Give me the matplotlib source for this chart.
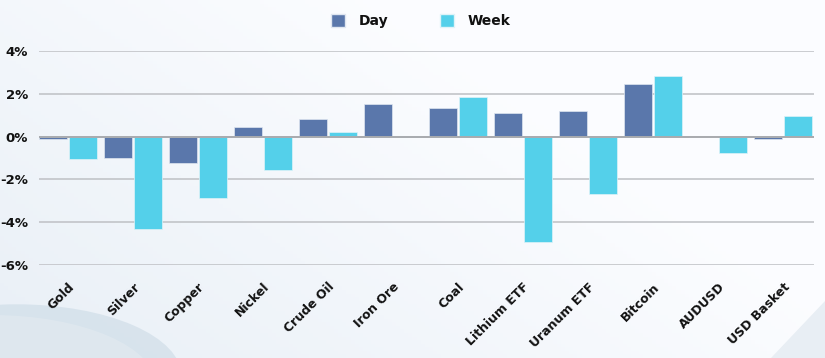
import matplotlib
matplotlib.use("Agg")
import matplotlib.pyplot as plt
import numpy as np
from matplotlib.patches import Patch, Ellipse
from matplotlib.ticker import FuncFormatter

categories = ["Gold", "Silver", "Copper", "Nickel", "Crude Oil", "Iron Ore",
              "Coal", "Lithium ETF", "Uranum ETF", "Bitcoin", "AUDUSD", "USD Basket"]
day = [-0.10, -0.98, -1.22, 0.47, 0.82, 1.52, 1.33, 1.10, 1.21, 2.47, 0.0, -0.09]
week = [-1.07, -4.33, -2.88, -1.58, 0.23, 0.03, 1.83, -4.92, -2.68, 2.84, -0.77, 0.96]
yticks = [-6, -4, -2, 0, 2, 4]

DAY_C = "#5a77ab"
WEEK_C = "#54d0ea"

W, H = 825, 358
fig = plt.figure(figsize=(W / 100, H / 100), dpi=100)

# background gradient
bg = fig.add_axes([0, 0, 1, 1], zorder=-10)
xx, yy = np.meshgrid(np.linspace(0, 1, 200), np.linspace(0, 1, 100))
t = np.clip((1 - xx) * 0.8 + yy * 0.5 - 0.45, 0, 1)
c0 = np.array([0.985, 0.99, 1.0])
c1 = np.array([0.90, 0.93, 0.96])
img = c0[None, None, :] * (1 - t[..., None]) + c1[None, None, :] * t[..., None]
bg.imshow(img, extent=[0, 1, 0, 1], aspect="auto", origin="upper")
bg.add_patch(Ellipse((0.02, -0.05), 0.40, 0.40, color="#d3e0ea", alpha=0.8, lw=0))
bg.add_patch(Ellipse((-0.01, -0.08), 0.40, 0.40, color="#dfe8ef", alpha=0.9, lw=0))
bg.add_patch(plt.Polygon([[0.935, 0], [1, 0], [1, 0.16]], color="#e8eef4", lw=0))
bg.set_xlim(0, 1)
bg.set_ylim(0, 1)
bg.axis("off")

ax = fig.add_axes([39 / W, 1 - 265 / H, (814 - 39) / W, (265 - 51) / H])
ax.patch.set_alpha(0)

x = np.arange(len(categories))
off = 0.231
bw = 0.43
ax.bar(x - off, day, bw, color=DAY_C, edgecolor="#dfe6f0", linewidth=0.5, zorder=3, label="Day")
ax.bar(x + off, week, bw, color=WEEK_C, edgecolor="#dff3f8", linewidth=0.5, zorder=3, label="Week")

ax.set_ylim(-6, 4)
ax.set_xlim(-0.446, 11.477)
ax.set_yticks(yticks)
ax.yaxis.set_major_formatter(FuncFormatter(lambda v, p: f"{int(v)}%"))
ax.grid(axis="y", color="#c2c4c8", linewidth=1.2, zorder=0)
ax.axhline(0, color="#a9abaf", linewidth=1.4, zorder=4)
for s in ax.spines.values():
    s.set_visible(False)
ax.tick_params(axis="both", length=0)
ax.tick_params(axis="y", pad=8)
for lab in ax.get_yticklabels():
    lab.set_fontweight("bold")
    lab.set_fontsize(9.5)
    lab.set_color("#111111")

ax.set_xticks(x)
ax.set_xticklabels(categories, rotation=45, ha="right", rotation_mode="anchor",
                   fontsize=9, fontweight="bold", color="#111111")
ax.tick_params(axis="x", pad=11)

handles = [Patch(facecolor=DAY_C, edgecolor="#dfe6f0", label="Day"),
           Patch(facecolor=WEEK_C, edgecolor="#dff3f8", label="Week")]
leg = fig.legend(handles=handles, loc="upper center", bbox_to_anchor=(421 / W, 1.0 - 1 / H),
                 ncol=2, frameon=False, handlelength=1.0, handleheight=1.1,
                 handletextpad=1.0, columnspacing=3.7,
                 prop={"weight": "bold", "size": 10})
for txt in leg.get_texts():
    txt.set_color("#111111")

fig.savefig("out.png", dpi=100)
